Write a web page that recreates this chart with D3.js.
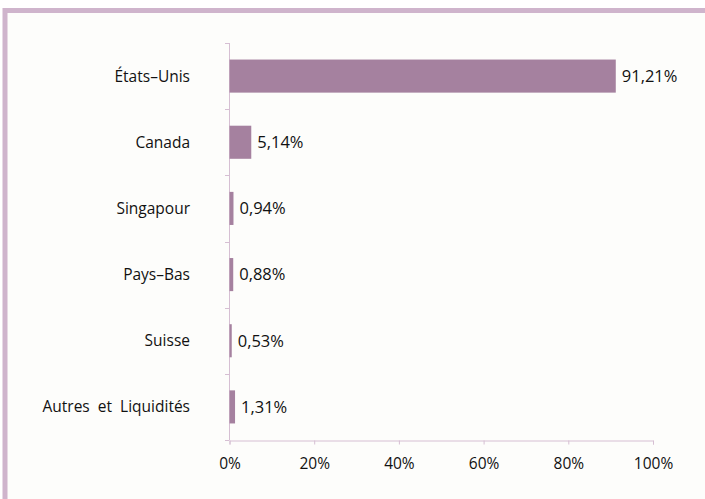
<!DOCTYPE html>
<html><head><meta charset="utf-8">
<script src="https://cdn.jsdelivr.net/npm/d3@7"></script>
<style>body{margin:0;background:#fff;}svg{display:block;}</style>
</head><body>
<svg id="c" width="705" height="499"></svg>
<script>
const categories = ["États–Unis","Canada","Singapour","Pays–Bas","Suisse","Autres  et  Liquidités"];
const values = [91.21,5.14,0.94,0.88,0.53,1.31];
const valueLabels = ["91,21%","5,14%","0,94%","0,88%","0,53%","1,31%"];
const tickValues = [0,20,40,60,80,100];

const svg = d3.select("#c");
const font = "Candara, 'Open Sans', sans-serif";
svg.append("rect").attr("x",0).attr("y",0).attr("width",705).attr("height",499).attr("fill","#fff");
svg.append("rect").attr("x",5).attr("y",10.5).attr("width",710).attr("height",500).attr("fill","#fdfdfb")
  .attr("stroke","#cfb4cc").attr("stroke-width",5);

const x = d3.scaleLinear().domain([0,100]).range([229.5,653]);
const y = d3.scaleBand().domain(categories).range([43,440]).paddingInner(0.5).paddingOuter(0.25);
const axisColor = "#d6bfd3";

svg.append("line").attr("x1",229.5).attr("x2",229.5).attr("y1",43).attr("y2",440).attr("stroke",axisColor);
d3.range(categories.length+1).forEach(i=>{
  const yy = Math.round(43 + i*397/categories.length)+0.5;
  svg.append("line").attr("x1",225).attr("x2",229.5).attr("y1",yy).attr("y2",yy).attr("stroke",axisColor);
});
const gx = svg.append("g").attr("transform","translate(0,440.5)")
  .call(d3.axisBottom(x).tickValues(tickValues).tickSize(4).tickPadding(13).tickFormat(d=>d+"%"));
gx.select(".domain").attr("stroke",axisColor);
gx.selectAll(".tick line").attr("stroke",axisColor);
gx.selectAll("text").attr("font-family",font).attr("font-size",15.5).attr("fill","#111");

svg.selectAll(".bar").data(values).join("rect")
  .attr("x",x(0)).attr("y",(d,i)=>y(categories[i]))
  .attr("width",d=>x(d)-x(0)).attr("height",y.bandwidth()).attr("fill","#a5819f");

svg.selectAll(".val").data(values).join("text")
  .attr("x",d=>x(d)+6).attr("y",(d,i)=>y(categories[i])+y.bandwidth()/2)
  .attr("dy","0.35em").attr("font-family",font).attr("font-size",16.5).attr("fill","#111")
  .text((d,i)=>valueLabels[i]);

svg.selectAll(".cat").data(categories).join("text")
  .attr("x",190).attr("y",d=>y(d)+y.bandwidth()/2).attr("dy","0.35em")
  .attr("text-anchor","end").attr("font-family",font).attr("font-size",15.5).attr("fill","#111")
  .style("white-space","pre").attr("xml:space","preserve")
  .text(d=>d);
</script>
</body></html>
